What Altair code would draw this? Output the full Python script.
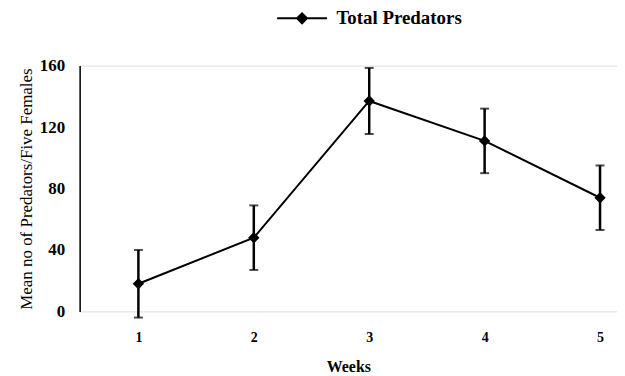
import altair as alt
import pandas as pd

weeks = [1, 2, 3, 4, 5]
mean_predators = [18, 48, 137, 111, 74]
error = [22, 21, 21.5, 21, 21]
series = ["Total Predators"] * 5

df = pd.DataFrame({
    "week": weeks,
    "mean": mean_predators,
    "lo": [m - e for m, e in zip(mean_predators, error)],
    "hi": [m + e for m, e in zip(mean_predators, error)],
    "series": series,
})

FONT = "Liberation Serif"

x = alt.X("week:Q",
          scale=alt.Scale(domain=[0.491, 5.147], nice=False, zero=False),
          axis=alt.Axis(values=weeks, format="d", title="Weeks", domain=False, ticks=False, grid=False,
                        labelFont=FONT, labelFontSize=14, labelFontWeight="bold",
                        labelPadding=19, titleFont=FONT, titleFontSize=16,
                        titleFontWeight="bold", titlePadding=14, labelColor="black",
                        titleColor="black"))
y = alt.Y("mean:Q",
          scale=alt.Scale(domain=[0, 160], nice=False),
          axis=alt.Axis(values=[0, 40, 80, 120, 160], title="Mean no of Predators/Five Females",
                        domain=True, domainColor="black", domainWidth=1.5, ticks=False, grid=False,
                        labelFont=FONT, labelFontSize=17, labelFontWeight="bold",
                        labelPadding=15, labelColor="black",
                        titleFont=FONT, titleFontSize=17, titleColor="black",
                        titleFontWeight="normal", titlePadding=4))

color = alt.Color("series:N",
                  scale=alt.Scale(domain=["Total Predators"], range=["black"]),
                  legend=alt.Legend(title=None, orient="none", legendX=214, legendY=-57,
                                    symbolType="M-5,0L5,0M0,-1L1,0L0,1L-1,0Z",
                                    symbolSize=100, symbolStrokeWidth=2,
                                    symbolFillColor="black", symbolStrokeColor="black",
                                    labelFont=FONT, labelFontSize=19, labelFontWeight="bold",
                                    labelColor="black", labelOffset=25))

line = alt.Chart(df).mark_line(color="black", strokeWidth=2).encode(x=x, y=y)
rules = alt.Chart(df).mark_rule(color="black", strokeWidth=2.5).encode(x="week:Q", y="lo:Q", y2="hi:Q")
caps_lo = alt.Chart(df).mark_tick(color="black", orient="horizontal", size=9, thickness=2).encode(x="week:Q", y="lo:Q")
caps_hi = alt.Chart(df).mark_tick(color="black", orient="horizontal", size=9, thickness=2).encode(x="week:Q", y="hi:Q")
points = alt.Chart(df).mark_point(shape="diamond", filled=True, size=130, opacity=1).encode(x="week:Q", y="mean:Q", color=color)

chart = alt.layer(line, rules, caps_lo, caps_hi, points).properties(
    width=540, height=247,
    autosize=alt.AutoSizeParams(type="none"),
    padding={"left": 72, "top": 57, "right": 0, "bottom": 64},
).configure_view(stroke=None).configure(background="white")

chart.save("out.html", embed_options={"renderer": "svg", "actions": False})
